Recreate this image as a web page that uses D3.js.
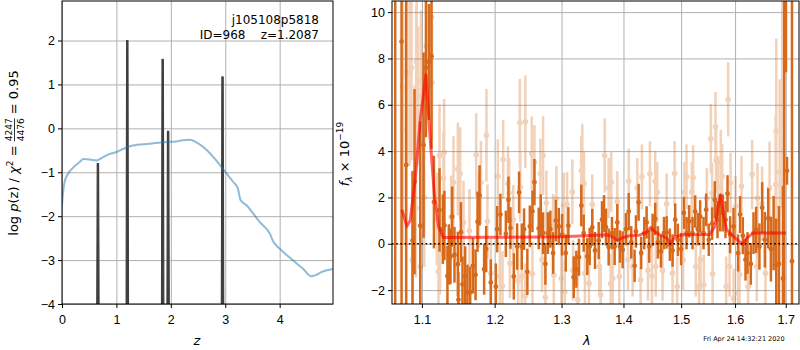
<!DOCTYPE html>
<html lang="en">
<head>
<meta charset="UTF-8">
<title>Redshift fit</title>
<script src="https://d3js.org/d3.v7.min.js"></script>
<style>
    body { margin: 0; background: #fff; }
    svg { font-family: "DejaVu Sans", sans-serif; }
    .tick text { font-size: 12.5px; fill: #000; }
    .tick line { stroke: #000; }
    .grid line { stroke: #b0b0b0; stroke-width: 1; }
    .grid .domain { display: none; }
</style>
</head>
<body>
<script>
// left panel: chi2 curve and log p(z)
const chiZ = [0, 0.02, 0.05, 0.09, 0.14, 0.20, 0.26, 0.33, 0.39, 0.51, 0.63, 0.75, 0.88, 1.0, 1.12, 1.30, 1.61, 1.92, 2.10, 2.22, 2.35, 2.47, 2.65, 2.84, 3.02, 3.14, 3.23, 3.28, 3.39, 3.63, 3.82, 3.88, 4.0, 4.24, 4.43, 4.58, 4.67, 4.79, 4.98];
const chiVal = [-1.75, -1.45, -1.21, -1.08, -0.98, -0.90, -0.83, -0.76, -0.70, -0.71, -0.73, -0.66, -0.58, -0.54, -0.47, -0.39, -0.35, -0.31, -0.30, -0.27, -0.26, -0.32, -0.48, -0.74, -1.02, -1.21, -1.36, -1.63, -1.75, -2.13, -2.40, -2.57, -2.74, -3.0, -3.2, -3.37, -3.34, -3.26, -3.2];
const spikeZ = [0.66, 1.20, 1.85, 1.95, 2.95];
const spikePeak = [-0.80, 2.0, 1.57, -0.07, 1.17];
const zTicks = [0, 1, 2, 3, 4];
const pTicks = [-4, -3, -2, -1, 0, 1, 2];

// right panel: spectrum
const darkWave = [1.0654, 1.0735, 1.0795, 1.0877, 1.0903, 1.0978, 1.1022, 1.1053, 1.1093, 1.1127, 1.1159, 1.1234, 1.1279, 1.1300, 1.1341, 1.1360, 1.1382, 1.1405, 1.1437, 1.1483, 1.1491, 1.1525, 1.1547, 1.1584, 1.1616, 1.1654, 1.1692, 1.1729, 1.1757, 1.1785, 1.1850, 1.1879, 1.1945, 1.2017, 1.2036, 1.2083, 1.2162, 1.2200, 1.2229, 1.2278, 1.2327, 1.2356, 1.2396, 1.2430, 1.2479, 1.2516, 1.2555, 1.2585, 1.2650, 1.2681, 1.2716, 1.2751, 1.2789, 1.2827, 1.2869, 1.2911, 1.2957, 1.3008, 1.3066, 1.3107, 1.3191, 1.3232, 1.3274, 1.3311, 1.3349, 1.3407, 1.3445, 1.3487, 1.3531, 1.3591, 1.3645, 1.3678, 1.3710, 1.3754, 1.3809, 1.3853, 1.3897, 1.3941, 1.3986, 1.4041, 1.4088, 1.4131, 1.4188, 1.4210, 1.4256, 1.4300, 1.4352, 1.4393, 1.4438, 1.4497, 1.4542, 1.4589, 1.4642, 1.4695, 1.4742, 1.4799, 1.4847, 1.4894, 1.4941, 1.5000, 1.5049, 1.5097, 1.5144, 1.5206, 1.5254, 1.5303, 1.5345, 1.5408, 1.5456, 1.5505, 1.5567, 1.5617, 1.5667, 1.5716, 1.5767, 1.5818, 1.5856, 1.5906, 1.5971, 1.6058, 1.6096, 1.6149, 1.6201, 1.6240, 1.6304, 1.6357, 1.6409, 1.6473, 1.6528, 1.6581, 1.6647, 1.6701, 1.6755, 1.6808, 1.6862, 1.6944, 1.6969, 1.7005, 1.7026, 1.7128];
const darkFlux = [-3.0, 8.73, 3.4, 0.14, 2.68, 0.78, 4.26, 7.6, 7.85, 8.1, 1.8, 1.46, 0.63, 0.79, -1.39, -0.46, -0.55, 1.17, -0.48, -0.88, -2.42, 0.5, -1.75, -1.41, -2.1, -2.09, -0.95, -1.34, 0.95, 2.09, -1.1, -0.23, -1.67, -1.85, 0.63, 1.26, 0.43, 1.9, 0.68, -1.41, -0.12, 2.22, -0.12, 0.63, -1.21, 0.75, 1.4, 2.66, 0.66, 1.24, 0.46, -0.87, 0.46, 0.63, -0.4, 1.0, 0.75, 0.39, -0.4, 0.78, -1.44, -1.1, -0.58, 1.65, 0.46, -0.55, -0.12, 0.71, -0.29, 0.14, 1.04, 1.3, 0.72, -0.14, 0.46, -0.12, 0.92, -0.12, -0.26, 0.63, 1.39, 0.06, -0.95, 0.53, 1.79, -0.4, 0.46, 0.92, -0.12, 0.6, 1.07, 0.06, -0.33, 0.46, 0.49, -0.04, -0.29, 1.04, 0.17, -0.23, 1.33, 0.46, 0.97, 0.46, 1.39, 0.63, 1.18, 0.46, 1.47, 0.17, 0.87, 1.9, 1.04, 1.33, 1.33, 1.04, 2.16, 0.39, 0.75, -0.4, 1.26, 0.35, -0.69, -0.4, -0.87, 0.46, 0.6, -0.12, 1.56, 0.17, 1.1, -0.23, 0.46, -0.91, -0.87, -1.5, 12.0, 14.0, 3.15, -0.75];
const darkErr = [14, 12, 11, 3, 4, 4.5, 4, 3, 2.5, 4, 2, 1.8, 1.5, 1.5, 1.3, 1.3, 1.2, 1.3, 1.2, 1.4, 1.2, 1.3, 1.2, 1.3, 1.2, 1.1, 1.2, 1.1, 1.3, 1.3, 1.1, 1.0, 1.0, 1.0, 1.0, 0.9, 1.0, 1.0, 0.9, 1.0, 1.0, 0.9, 1.0, 0.9, 1.0, 0.9, 0.9, 1.0, 0.9, 0.9, 0.9, 0.9, 0.9, 0.8, 0.9, 0.9, 0.8, 0.9, 0.8, 0.8, 0.9, 0.8, 0.8, 0.9, 0.8, 0.8, 0.8, 0.8, 0.8, 0.8, 0.8, 0.8, 0.8, 0.8, 0.7, 0.8, 0.8, 0.7, 0.8, 0.7, 0.8, 0.7, 0.7, 0.7, 0.8, 0.7, 0.7, 0.7, 0.7, 0.7, 0.7, 0.7, 0.7, 0.7, 0.7, 0.7, 0.7, 0.7, 0.7, 0.7, 0.7, 0.7, 0.7, 0.7, 0.7, 0.7, 0.7, 0.7, 0.7, 0.7, 0.7, 0.8, 0.8, 0.8, 0.8, 0.8, 0.8, 0.8, 0.8, 0.8, 0.8, 0.8, 0.9, 0.9, 0.9, 0.9, 1.0, 1.0, 1.1, 1.2, 1.3, 1.4, 1.6, 2.0, 2.5, 4, 16, 6.6, 0.6, 15];

const lightWave = [1.0748, 1.0757, 1.0795, 1.0838, 1.0864, 1.0873, 1.0921, 1.0925, 1.0931, 1.0951, 1.0978, 1.0987, 1.1031, 1.1057, 1.1127, 1.1134, 1.1198, 1.1220, 1.1234, 1.1240, 1.1287, 1.1296, 1.1392, 1.1423, 1.1483, 1.1515, 1.1561, 1.1644, 1.1738, 1.1776, 1.1804, 1.1883, 1.1897, 1.1945, 1.2046, 1.2075, 1.2113, 1.2123, 1.2192, 1.2211, 1.2221, 1.2270, 1.2342, 1.2367, 1.2374, 1.2396, 1.2445, 1.2449, 1.2545, 1.2555, 1.2585, 1.2675, 1.2700, 1.2716, 1.2751, 1.2766, 1.2869, 1.2880, 1.2920, 1.2997, 1.3035, 1.3050, 1.3086, 1.3169, 1.3180, 1.3254, 1.3311, 1.3327, 1.3354, 1.3369, 1.3434, 1.3487, 1.3601, 1.3623, 1.3689, 1.3754, 1.3787, 1.3797, 1.3820, 1.3897, 1.3930, 1.4076, 1.4088, 1.4155, 1.4234, 1.4290, 1.4312, 1.4416, 1.4450, 1.4485, 1.4542, 1.4551, 1.4577, 1.4671, 1.4742, 1.4847, 1.4883, 1.4929, 1.5036, 1.5061, 1.5097, 1.5193, 1.5217, 1.5266, 1.5326, 1.5352, 1.5413, 1.5469, 1.5543, 1.5567, 1.5576, 1.5630, 1.5641, 1.5679, 1.5729, 1.5754, 1.5830, 1.5868, 1.5895, 1.5914, 1.5971, 1.6010, 1.6058, 1.6086, 1.6124, 1.6251, 1.6330, 1.6422, 1.6436, 1.6526, 1.6594, 1.6674, 1.6796, 1.6808, 1.6876, 1.6929];
const lightFlux = [6.78, 4.94, 7.4, 7.36, 7.6, -0.69, 1.54, 6.74, 7.85, 6.38, -0.98, 7.07, 2.0, 8.54, 9.78, 6.96, 1.07, -1.2, 3.81, -0.4, 2.83, 3.95, 1.15, 2.64, 3.23, 3.03, 0.92, 0.56, 3.84, 1.43, 2.64, 4.68, 0.97, -1.27, 2.91, -1.41, -1.82, 3.64, 2.6, 2.19, -0.84, 1.04, -1.6, 5.22, 2.45, -1.39, -2.25, 5.27, 3.9, -1.3, 3.52, 3.03, -0.69, 3.81, -2.31, 1.76, 0.75, -1.36, 1.95, -1.5, 1.66, -2.08, 1.7, 2.24, -1.15, -2.42, 3.16, 3.58, 2.6, -1.27, -1.7, 1.69, -0.98, -2.2, 3.81, 2.41, -1.73, 2.66, -1.5, 1.83, -1.41, -0.69, 2.71, -0.98, 2.4, -1.56, 2.89, -1.15, 3.02, -1.39, 2.7, -0.98, 2.22, -1.15, 1.73, -1.27, 3.03, -1.85, -0.69, 2.22, 2.89, 2.24, 2.86, -0.98, -1.85, -0.69, -1.77, 1.96, 4.53, 2.19, -1.3, 5.05, 3.6, 2.48, 3.52, 2.91, -1.85, 6.23, -0.98, 2.63, -2.37, 1.62, -2.14, -1.34, 2.48, -1.85, 2.99, -0.98, 1.98, 1.73, -1.27, 2.41, 2.55, 4.86, 3.1, 6.52];
const lightErr = [5, 5, 4, 4, 4, 3, 3, 3.5, 3.5, 3, 3, 3, 3, 3, 3, 2.5, 2, 2, 2.2, 1.8, 2, 2.3, 1.8, 2, 2, 2, 1.8, 1.8, 1.8, 1.6, 1.8, 2, 1.6, 1.5, 1.6, 1.5, 1.5, 1.7, 1.6, 1.5, 1.5, 1.5, 1.5, 1.9, 1.5, 1.5, 1.4, 2, 1.6, 1.4, 1.6, 1.5, 1.4, 1.7, 1.4, 1.4, 1.4, 1.4, 1.4, 1.4, 1.4, 1.4, 1.4, 1.4, 1.3, 1.4, 1.5, 1.6, 1.4, 1.3, 1.3, 1.3, 1.3, 1.3, 1.6, 1.3, 1.3, 1.3, 1.3, 1.3, 1.3, 1.3, 1.4, 1.3, 1.3, 1.3, 1.4, 1.3, 1.4, 1.3, 1.3, 1.3, 1.3, 1.3, 1.3, 1.3, 1.4, 1.3, 1.3, 1.3, 1.4, 1.3, 1.4, 1.3, 1.3, 1.3, 1.3, 1.3, 1.5, 1.3, 1.3, 1.5, 1.4, 1.3, 1.4, 1.4, 1.3, 1.6, 1.3, 1.3, 1.3, 1.3, 1.3, 1.3, 1.3, 1.4, 1.5, 1.5, 1.5, 1.6, 1.7, 2, 3, 4, 4, 5];

const modelWave = [1.0740, 1.0804, 1.0847, 1.0912, 1.0978, 1.1053, 1.1110, 1.1163, 1.1220, 1.1287, 1.2000, 1.3029, 1.3721, 1.3831, 1.3897, 1.3969, 1.4109, 1.4278, 1.4393, 1.4462, 1.4537, 1.4624, 1.4741, 1.4812, 1.4888, 1.5036, 1.5524, 1.5617, 1.5679, 1.5723, 1.5773, 1.5838, 1.5933, 1.6060, 1.6146, 1.6224, 1.6353, 1.7005];
const modelFlux = [1.47, 0.75, 1.01, 2.77, 5.37, 7.3, 4.5, 2.19, 0.75, 0.27, 0.28, 0.30, 0.39, 0.29, 0.12, 0.25, 0.35, 0.38, 0.49, 0.71, 0.52, 0.39, 0.25, 0.0, 0.29, 0.39, 0.40, 0.75, 1.62, 2.12, 1.33, 0.61, 0.39, 0.14, -0.03, 0.25, 0.46, 0.46];
const waveTicks = [1.1, 1.2, 1.3, 1.4, 1.5, 1.6, 1.7];
const fluxTicks = [-2, 0, 2, 4, 6, 8, 10];

const width = 800, height = 350;
const orange = "#d7691a";

const svg = d3.select("body").append("svg")
    .attr("width", width).attr("height", height);

const L = {x0: 62, x1: 333, y0: 1, y1: 304};
const R = {x0: 392, x1: 799, y0: 1, y1: 304};

const xz = d3.scaleLinear().domain([0, 4.98]).range([L.x0, L.x1]);
const yp = d3.scaleLinear().domain([-4, 2.9]).range([L.y1, L.y0]);
const xw = d3.scaleLog().domain([1.0613, 1.7272]).range([R.x0, R.x1]);
const yf = d3.scaleLinear().domain([-2.6, 10.48]).range([R.y1, R.y0]);

const defs = svg.append("defs");
[["clipL", L], ["clipR", R]].forEach(([id, p]) => {
    defs.append("clipPath").attr("id", id).append("rect")
        .attr("x", p.x0).attr("y", p.y0)
        .attr("width", p.x1 - p.x0).attr("height", p.y1 - p.y0);
});

function grids(p, xs, ys, xt, yt) {
    svg.append("g").attr("class", "grid")
        .attr("transform", `translate(0,${p.y1})`)
        .call(d3.axisBottom(xs).tickValues(xt).tickSize(-(p.y1 - p.y0)).tickFormat(""));
    svg.append("g").attr("class", "grid")
        .attr("transform", `translate(${p.x0},0)`)
        .call(d3.axisLeft(ys).tickValues(yt).tickSize(-(p.x1 - p.x0)).tickFormat(""));
}

function axes(p, xs, ys, xt, yt, xf, yfmt) {
    const minus = s => s.replace("-", "\u2212");
    const gx = svg.append("g").attr("transform", `translate(0,${p.y1})`)
        .call(d3.axisBottom(xs).tickValues(xt).tickSize(4).tickPadding(4)
            .tickFormat(d => minus(xf(d))));
    const gy = svg.append("g").attr("transform", `translate(${p.x0},0)`)
        .call(d3.axisLeft(ys).tickValues(yt).tickSize(4).tickPadding(3)
            .tickFormat(d => minus(yfmt(d))));
    gx.select(".domain").remove();
    gy.select(".domain").remove();
    gx.selectAll(".tick text").attr("dy", "0.95em");
    svg.append("rect").attr("x", p.x0).attr("y", p.y0)
        .attr("width", p.x1 - p.x0).attr("height", p.y1 - p.y0)
        .attr("fill", "none").attr("stroke", "#000").attr("stroke-width", 1);
}

// ---- left panel ----
grids(L, xz, yp, zTicks, pTicks);
const gl = svg.append("g").attr("clip-path", "url(#clipL)");

const spikeLine = d3.line().x(d => xz(d[0])).y(d => yp(d[1]));
spikeZ.forEach((c, i) => {
    const pk = spikePeak[i];
    gl.append("path")
        .attr("d", spikeLine([[c - 0.022, -4.3], [c - 0.012, pk], [c + 0.012, pk], [c + 0.022, -4.3]]))
        .attr("fill", "#3f3f3f").attr("stroke", "#3f3f3f")
        .attr("stroke-width", 1.2).attr("stroke-linejoin", "round");
});

gl.append("path")
    .datum(d3.zip(chiZ, chiVal))
    .attr("d", d3.line().x(d => xz(d[0])).y(d => yp(d[1])).curve(d3.curveMonotoneX))
    .attr("fill", "none").attr("stroke", "#1f77b4").attr("stroke-opacity", 0.5)
    .attr("stroke-width", 2);

axes(L, xz, yp, zTicks, pTicks, d3.format("d"), d3.format("d"));

svg.append("text").attr("x", 319).attr("y", 24).attr("text-anchor", "end")
    .attr("font-size", 12).text("j105108p5818");
svg.append("text").attr("x", 319).attr("y", 39).attr("text-anchor", "end")
    .attr("font-size", 12).style("white-space", "pre").text("ID=968    z=1.2087");

svg.append("text").attr("x", xz(2.48)).attr("y", 345).attr("text-anchor", "middle")
    .attr("font-size", 13).attr("font-style", "italic").text("z");

// rotated y label with stacked fraction
const yl = svg.append("g");
const fs = 13;
let cx = 0;
function part(str, opts = {}) {
    const t = yl.append("text").attr("x", cx).attr("y", opts.dy || 0)
        .attr("font-size", opts.size || fs).style("white-space", "pre").text(str);
    if (opts.italic) t.attr("font-style", "italic");
    const w = t.node().getComputedTextLength();
    if (!opts.noAdvance) cx += w;
    return w;
}
part("log ");
part("p", {italic: true});
part("(z) / ");
part("\u03c7", {italic: true});
part("2", {size: 9, dy: -5});
part(" = ");
const fx = cx;
const wn = part("4247", {size: 9, dy: -6, noAdvance: true});
cx = fx;
const wd = part("4476", {size: 9, dy: 6, noAdvance: true});
const fw = Math.max(wn, wd);
yl.append("line").attr("x1", fx).attr("x2", fx + fw).attr("y1", -3.5).attr("y2", -3.5)
    .attr("stroke", "#000").attr("stroke-width", 0.8);
cx = fx + fw;
part(" = 0.95");
yl.attr("transform", `translate(18,${153 + cx / 2}) rotate(-90)`);

// ---- right panel ----
grids(R, xw, yf, waveTicks, fluxTicks);
const gr = svg.append("g").attr("clip-path", "url(#clipR)");

function errSeries(wave, flux, err, opacity, r) {
    const g = gr.append("g").attr("opacity", opacity);
    const pts = d3.range(wave.length).map(i => [wave[i], flux[i], err[i]]);
    g.selectAll("line").data(pts).join("line")
        .attr("x1", d => xw(d[0])).attr("x2", d => xw(d[0]))
        .attr("y1", d => yf(d[1] - d[2])).attr("y2", d => yf(d[1] + d[2]))
        .attr("stroke", orange).attr("stroke-width", 2.5);
    g.selectAll("circle").data(pts).join("circle")
        .attr("cx", d => xw(d[0])).attr("cy", d => yf(d[1]))
        .attr("r", r).attr("fill", orange);
}
errSeries(lightWave, lightFlux, lightErr, 0.3, 2.8);
errSeries(darkWave, darkFlux, darkErr, 1, 2.4);

gr.append("path")
    .datum(d3.zip(modelWave, modelFlux))
    .attr("d", d3.line().x(d => xw(d[0])).y(d => yf(d[1])))
    .attr("fill", "none").attr("stroke", "red").attr("stroke-opacity", 0.6)
    .attr("stroke-width", 3).attr("stroke-linejoin", "round");

gr.append("line").attr("x1", R.x0).attr("x2", R.x1)
    .attr("y1", yf(0)).attr("y2", yf(0))
    .attr("stroke", "#000").attr("stroke-width", 1.6).attr("stroke-dasharray", "1.6,2.6");

axes(R, xw, yf, waveTicks, fluxTicks, d3.format(".1f"), d3.format("d"));

svg.append("text").attr("x", xw(1.34)).attr("y", 345).attr("text-anchor", "middle")
    .attr("font-size", 13).attr("font-style", "italic").text("\u03bb");

const fl = svg.append("text").attr("transform", `translate(349,154) rotate(-90)`)
    .attr("text-anchor", "middle").attr("font-size", 13);
fl.append("tspan").attr("font-style", "italic").text("f");
fl.append("tspan").attr("font-size", 9).attr("font-style", "italic").attr("dy", 3).text("\u03bb");
fl.append("tspan").attr("dy", -3).text(" \u00d7 10");
fl.append("tspan").attr("font-size", 9).attr("dy", -6).text("\u221219");

svg.append("text").attr("x", 744).attr("y", 341).attr("text-anchor", "middle")
    .attr("font-size", 6.5).text("Fri Apr 24 14:32:21 2020");
</script>
</body>
</html>
